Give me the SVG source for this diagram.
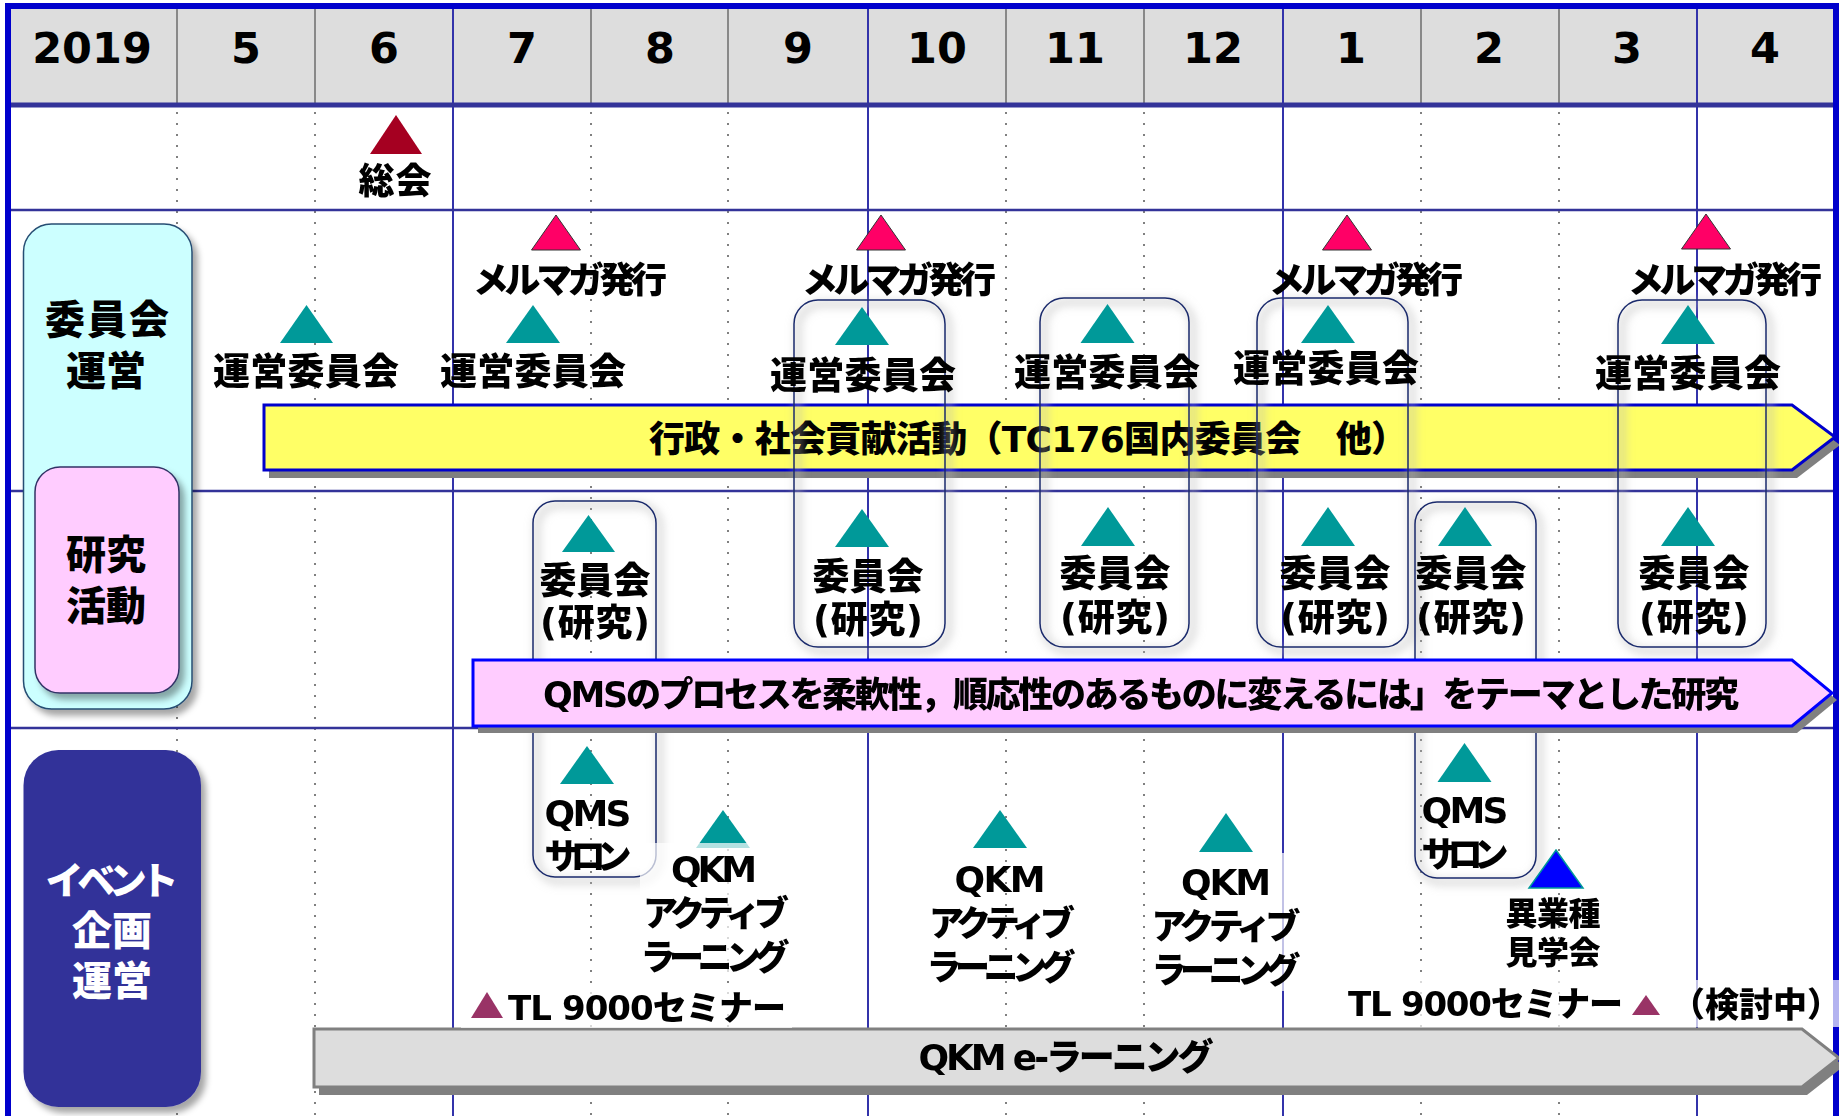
<svg xmlns="http://www.w3.org/2000/svg" width="1839" height="1116" viewBox="0 0 1839 1116">
<defs>
<style>
.t{font-family:"DejaVu Sans","Noto Sans CJK JP",sans-serif;font-weight:900;fill:#000;text-anchor:middle}
.s{text-anchor:start}
.w{fill:#fff}
.hd{font-size:43px;font-weight:700}
.dot{stroke:#808080;stroke-width:2;stroke-dasharray:2 9;fill:none}
.hsep{stroke:#888;stroke-width:2}
.q{stroke:#3333AA;stroke-width:2}
.hr{stroke:#333399;stroke-width:2.5}
.teal{fill:#009999}
.red{fill:#FF0066;stroke:#333;stroke-width:1}
.pur{fill:#993366}
.box{fill:none;stroke:#1A2A6C;stroke-width:1.5}
.bsh{fill:none;stroke:#b8b8b8;stroke-width:8;opacity:.45}
.wb{fill:#fff;opacity:.7}
</style>
<filter id="sh" x="-20%" y="-20%" width="140%" height="140%"><feDropShadow dx="5" dy="6" stdDeviation="3" flood-color="#000" flood-opacity="0.35"/></filter>
<filter id="bl" x="-20%" y="-20%" width="140%" height="140%"><feGaussianBlur stdDeviation="4"/></filter>
</defs>
<rect width="1839" height="1116" fill="#fff"/>

<g id="header">
<rect x="11" y="9" width="1822" height="94" fill="#DDDDDD"/>
<g>
<line class="hsep" x1="177" y1="9" x2="177" y2="103"/><line class="hsep" x1="315" y1="9" x2="315" y2="103"/>
<line class="hsep" x1="591" y1="9" x2="591" y2="103"/><line class="hsep" x1="728" y1="9" x2="728" y2="103"/>
<line class="hsep" x1="1006" y1="9" x2="1006" y2="103"/><line class="hsep" x1="1144" y1="9" x2="1144" y2="103"/>
<line class="hsep" x1="1421" y1="9" x2="1421" y2="103"/><line class="hsep" x1="1559" y1="9" x2="1559" y2="103"/>
</g>
<text class="t hd" x="92" y="63">2019</text>
<text class="t hd" x="246" y="63">5</text>
<text class="t hd" x="384" y="63">6</text>
<text class="t hd" x="522" y="63">7</text>
<text class="t hd" x="660" y="63">8</text>
<text class="t hd" x="798" y="63">9</text>
<text class="t hd" x="937" y="63">10</text>
<text class="t hd" x="1075" y="63">11</text>
<text class="t hd" x="1213" y="63">12</text>
<text class="t hd" x="1351" y="63">1</text>
<text class="t hd" x="1489" y="63">2</text>
<text class="t hd" x="1627" y="63">3</text>
<text class="t hd" x="1765" y="63">4</text>
</g>

<g id="grid">
<line class="dot" x1="177" y1="112" x2="177" y2="1116"/>
<line class="dot" x1="315" y1="112" x2="315" y2="1116"/>
<line class="dot" x1="591" y1="112" x2="591" y2="1116"/>
<line class="dot" x1="728" y1="112" x2="728" y2="1116"/>
<line class="dot" x1="1006" y1="112" x2="1006" y2="1116"/>
<line class="dot" x1="1144" y1="112" x2="1144" y2="1116"/>
<line class="dot" x1="1421" y1="112" x2="1421" y2="1116"/>
<line class="dot" x1="1559" y1="112" x2="1559" y2="1116"/>
<line class="q" x1="453" y1="9" x2="453" y2="1116"/>
<line class="q" x1="868" y1="9" x2="868" y2="1116"/>
<line class="q" x1="1283" y1="9" x2="1283" y2="1116"/>
<line class="q" x1="1697" y1="9" x2="1697" y2="1116"/>
<line stroke="#333399" stroke-width="5" x1="11" y1="105" x2="1833" y2="105"/>
<line class="hr" x1="11" y1="210" x2="1833" y2="210"/>
<line class="hr" x1="11" y1="491" x2="1833" y2="491"/>
<line class="hr" x1="11" y1="728" x2="1833" y2="728"/>
</g>

<g id="border" fill="#0000CC">
<rect x="5" y="3" width="1834" height="6"/>
<rect x="5" y="3" width="6" height="1113"/>
<rect x="1833" y="3" width="6" height="1113"/>
</g>

<g id="label-iinkai" filter="url(#sh)">
<rect x="23.5" y="224" width="168.5" height="485" rx="28" fill="#CCFFFF" stroke="#264D73" stroke-width="1.5"/>
</g>
<g id="label-kenkyu" filter="url(#sh)">
<rect x="35" y="467" width="144" height="226" rx="25" fill="#FFCCFF" stroke="#333366" stroke-width="1.5"/>
</g>
<g id="label-event" filter="url(#sh)">
<rect x="23.5" y="750" width="177.5" height="357" rx="35" fill="#333399"/>
</g>
<g id="label-texts">
<text class="t" style="font-size:40px" x="107" y="334" textLength="124">委員会</text>
<text class="t" style="font-size:40px" x="106" y="385">運営</text>
<text class="t" style="font-size:40px" x="106" y="569">研究</text>
<text class="t" style="font-size:40px" x="106" y="620">活動</text>
<text class="t w" style="font-size:38px" x="112" y="894" textLength="133">イベント</text>
<text class="t w" style="font-size:40px" x="112" y="945">企画</text>
<text class="t w" style="font-size:40px" x="112" y="995">運営</text>
</g>

<g id="bar-gyosei">
<path d="M269,413 H1797 L1840,445 L1797,478 H269 Z" fill="#808080"/>
<path d="M264,405 H1792 L1835,437 L1792,470 H264 Z" fill="#FFFF66" stroke="#0000CC" stroke-width="3"/>
<text class="t" style="font-size:36px" x="1028" y="452" textLength="758">行政・社会貢献活動（TC176国内委員会　他）</text>
</g>

<g id="boxes">
<g filter="url(#bl)">
<rect class="bsh" x="798" y="304" width="151" height="347" rx="24"/>
<rect class="bsh" x="1044" y="302" width="149" height="349" rx="24"/>
<rect class="bsh" x="1261" y="302" width="151" height="349" rx="24"/>
<rect class="bsh" x="1622" y="304" width="148" height="347" rx="24"/>
<rect class="bsh" x="537" y="505" width="123" height="376" rx="22"/>
<rect class="bsh" x="1419" y="506" width="121" height="376" rx="22"/>
</g>
<rect id="box-a" class="box" x="794" y="300" width="151" height="347" rx="24"/>
<rect id="box-b" class="box" x="1040" y="298" width="149" height="349" rx="24"/>
<rect id="box-c" class="box" x="1257" y="298" width="151" height="349" rx="24"/>
<rect id="box-d" class="box" x="1618" y="300" width="148" height="347" rx="24"/>
<rect id="box-e" class="box" x="533" y="501" width="123" height="376" rx="22"/>
<rect id="box-f" class="box" x="1415" y="502" width="121" height="376" rx="22"/>
</g>

<g id="bar-kenkyu">
<path d="M478,667 H1797 L1837,700 L1797,733 H478 Z" fill="#808080"/>
<path d="M473,660 H1792 L1832,693 L1792,726 H473 Z" fill="#FFCCFF" stroke="#0000FF" stroke-width="3"/>
<text class="t" style="font-size:35px" x="1141" y="707" textLength="1196">QMSのプロセスを柔軟性，順応性のあるものに変えるには」をテーマとした研究</text>
</g>

<g id="bar-elearning">
<path d="M319,1037 H1807 L1844,1066 L1807,1095 H319 Z" fill="#808080"/>
<path d="M314,1029 H1802 L1839,1058 L1802,1087 H314 Z" fill="#DDDDDD" stroke="#808080" stroke-width="3"/>
<text class="t" style="font-size:36px" x="1066" y="1070" textLength="295">QKM e-ラーニング</text>
</g>

<g id="text-bg">
<rect class="wb" x="461" y="985" width="331" height="43"/>
<rect class="wb" x="1340" y="980" width="499" height="47"/>
<rect class="wb" x="640" y="843" width="152" height="135"/>
<rect class="wb" x="1150" y="853" width="152" height="138"/>
</g>

<g id="soukai">
<polygon points="396,115 422,154 370,154" fill="#A50021"/>
<text class="t" style="font-size:36px" x="395" y="194" textLength="73">総会</text>
</g>

<g id="merumaga">
<polygon class="red" points="556,215 580.5,250 531.5,250"/>
<polygon class="red" points="881,215 905.5,250 856.5,250"/>
<polygon class="red" points="1347,215 1371.5,250 1322.5,250"/>
<polygon class="red" points="1706,214 1730.5,249 1681.5,249"/>
<text class="t" style="font-size:36px" x="570" y="293" textLength="194">メルマガ発行</text>
<text class="t" style="font-size:36px" x="899" y="293" textLength="194">メルマガ発行</text>
<text class="t" style="font-size:36px" x="1366" y="293" textLength="194">メルマガ発行</text>
<text class="t" style="font-size:36px" x="1725" y="293" textLength="194">メルマガ発行</text>
</g>

<g id="unei-iinkai">
<polygon class="teal" points="306.5,305 333,343 280,343"/>
<polygon class="teal" points="533,305 560,343 506,343"/>
<polygon class="teal" points="862,307 889,345 835,345"/>
<polygon class="teal" points="1107.5,304 1134.5,343 1080.5,343"/>
<polygon class="teal" points="1328,305 1355,343 1301,343"/>
<polygon class="teal" points="1688,305 1715,344 1661,344"/>
<text class="t" style="font-size:37px" x="306" y="385" textLength="186">運営委員会</text>
<text class="t" style="font-size:37px" x="533" y="385" textLength="186">運営委員会</text>
<text class="t" style="font-size:37px" x="863" y="389" textLength="186">運営委員会</text>
<text class="t" style="font-size:37px" x="1107" y="386" textLength="186">運営委員会</text>
<text class="t" style="font-size:37px" x="1326" y="382" textLength="186">運営委員会</text>
<text class="t" style="font-size:37px" x="1688" y="387" textLength="186">運営委員会</text>
</g>

<g id="kenkyu-iinkai">
<polygon class="teal" points="588.5,515 615,552 562,552"/>
<polygon class="teal" points="862,509 889,547 835,547"/>
<polygon class="teal" points="1108,507 1135,546 1081,546"/>
<polygon class="teal" points="1328,507 1355,546 1301,546"/>
<polygon class="teal" points="1465,507 1492,546 1438,546"/>
<polygon class="teal" points="1688,507 1715,546 1661,546"/>
<text class="t" style="font-size:37px" x="595" y="594" textLength="111">委員会</text>
<text class="t" style="font-size:37px" x="595" y="636" textLength="110">(研究)</text>
<text class="t" style="font-size:37px" x="868" y="590" textLength="111">委員会</text>
<text class="t" style="font-size:37px" x="868" y="633" textLength="110">(研究)</text>
<text class="t" style="font-size:37px" x="1115" y="587" textLength="111">委員会</text>
<text class="t" style="font-size:37px" x="1115" y="631" textLength="110">(研究)</text>
<text class="t" style="font-size:37px" x="1335" y="587" textLength="111">委員会</text>
<text class="t" style="font-size:37px" x="1335" y="631" textLength="110">(研究)</text>
<text class="t" style="font-size:37px" x="1471" y="587" textLength="111">委員会</text>
<text class="t" style="font-size:37px" x="1471" y="631" textLength="110">(研究)</text>
<text class="t" style="font-size:37px" x="1694" y="587" textLength="111">委員会</text>
<text class="t" style="font-size:37px" x="1694" y="631" textLength="110">(研究)</text>
</g>

<g id="qms-salon">
<polygon class="teal" points="587,746 614,784 560,784"/>
<polygon class="teal" points="1464.5,743 1491.5,782 1437.5,782"/>
<text class="t" style="font-size:36px" x="588" y="826" textLength="87">QMS</text>
<text class="t" style="font-size:35px" x="588" y="869" textLength="87">サロン</text>
<text class="t" style="font-size:36px" x="1465" y="823" textLength="87">QMS</text>
<text class="t" style="font-size:35px" x="1465" y="867" textLength="87">サロン</text>
</g>

<g id="qkm-active">
<polygon class="teal" points="723,810 750,848 696,848"/>
<polygon class="teal" points="1000,810 1027,848 973,848"/>
<polygon class="teal" points="1226,813 1253,852 1199,852"/>
<rect class="wb" x="690" y="843" width="66" height="6"/>
<text class="t" style="font-size:36px" x="714" y="882" textLength="86">QKM</text>
<text class="t" style="font-size:35px" x="716" y="926" textLength="146">アクティブ</text>
<text class="t" style="font-size:35px" x="715" y="970" textLength="149">ラーニング</text>
<text class="t" style="font-size:36px" x="1000" y="892" textLength="91">QKM</text>
<text class="t" style="font-size:35px" x="1002" y="936" textLength="146">アクティブ</text>
<text class="t" style="font-size:35px" x="1001" y="980" textLength="149">ラーニング</text>
<text class="t" style="font-size:36px" x="1226" y="895" textLength="90">QKM</text>
<text class="t" style="font-size:35px" x="1226" y="939" textLength="149">アクティブ</text>
<text class="t" style="font-size:35px" x="1226" y="983" textLength="149">ラーニング</text>
</g>

<g id="igyoshu">
<polygon points="1556,850 1583,888 1529,888" fill="#0000FF" stroke="#009999" stroke-width="1.5"/>
<text class="t" style="font-size:32px" x="1553" y="925" textLength="95">異業種</text>
<text class="t" style="font-size:32px" x="1553" y="964" textLength="95">見学会</text>
</g>

<g id="tl9000">
<polygon class="pur" points="487,992 503,1018 471,1018"/>
<text class="t s" style="font-size:34px" x="508" y="1020" textLength="278">TL 9000セミナー</text>
<text class="t s" style="font-size:34px" x="1348" y="1016" textLength="275">TL 9000セミナー</text>
<polygon class="pur" points="1646,995 1660,1015 1632,1015"/>
<text class="t s" style="font-size:34px" x="1671" y="1017">（検討中）</text>
</g>
</svg>
